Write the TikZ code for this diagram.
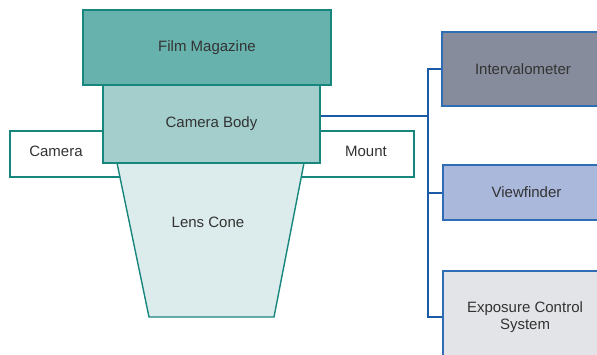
\documentclass[tikz,border=0pt]{standalone}
\usepackage{fontspec}
\setmainfont{Liberation Sans}
\definecolor{tealline}{HTML}{17877D}
\definecolor{magfill}{HTML}{68B2AE}
\definecolor{bodyfill}{HTML}{A3CECC}
\definecolor{conefill}{HTML}{DCEBEB}
\definecolor{busline}{HTML}{1A5AA6}
\definecolor{boxline}{HTML}{2F6DB5}
\definecolor{ivfill}{HTML}{878C9C}
\definecolor{vffill}{HTML}{A9B8DB}
\definecolor{expfill}{HTML}{E3E4E8}
\definecolor{txt}{HTML}{333333}

\begin{document}
\begin{tikzpicture}[x=1pt,y=-1pt,
    every node/.style={font=\fontsize{15}{17}\selectfont,text=txt},
    part/.style={draw=tealline,line width=1.4pt,rectangle,inner sep=0pt},
    unit/.style={draw=boxline,line width=1.4pt,rectangle,inner sep=0pt,align=center},
    bus/.style={draw=busline,line width=2pt}]
      \useasboundingbox (0,0) rectangle (597,354);
      \clip (0,0) rectangle (597,354);
      \node[part,fill=white,minimum width=150pt,minimum height=46pt] (camera) at (85,154) {};
      \node at (56,151) {Camera};
      \node[part,fill=white,minimum width=150pt,minimum height=46pt] (mount) at (339,154) {};
      \node at (366,151) {Mount};
      \filldraw[draw=tealline,fill=conefill,line width=1.4pt]
        (117,163) -- (304,163) -- (274,317) -- (149,317) -- cycle;
      \node (cone) at (208,222) {Lens Cone};
      \node[part,fill=bodyfill,minimum width=217pt,minimum height=78pt] (body) at (211.5,124) {Camera Body};
      \node[part,fill=magfill,minimum width=248pt,minimum height=75pt] (mag) at (207,47.5) {Film Magazine};
      \node[unit,fill=ivfill,minimum width=162pt,minimum height=74pt] (iv) at (523,69) {Intervalometer};
      \node[unit,fill=vffill,minimum width=167pt,minimum height=55pt] (vf) at (526.5,192.5) {Viewfinder};
      \node[unit,fill=expfill,minimum width=164pt,minimum height=92pt] (exp) at (525,317) {Exposure Control\\System};
      \coordinate (bus) at (428,116);
      \path (body.east |- bus) edge [bus] (bus);
      \draw[bus] (iv.west) -| (bus) |- (exp.west);
      \draw[bus] (bus) |- (vf.west);
    \end{tikzpicture}
\end{document}
